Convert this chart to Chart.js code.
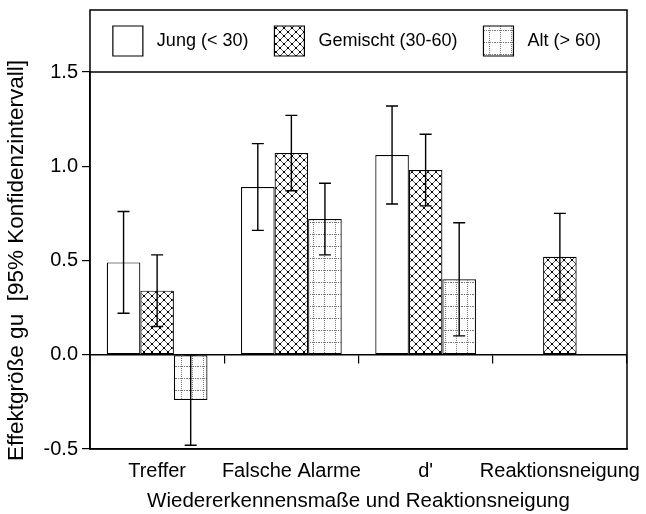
<!DOCTYPE html>
<html>
<head>
<meta charset="utf-8">
<script src="https://cdn.jsdelivr.net/npm/chart.js@4"></script>
<style>
  html, body { margin: 0; padding: 0; background: #fff; }
  #wrap { width: 646px; height: 514px; position: relative; }
</style>
</head>
<body>
<div id="wrap"><canvas id="chart"></canvas></div>
<script>
// data
const categories = ['Treffer', 'Falsche Alarme', "d'", 'Reaktionsneigung'];
const seriesNames = ['Jung (< 30)', 'Gemischt (30-60)', 'Alt (> 60)'];

const jung = [0.49, 0.89, 1.06, null];
const jungLo = [0.22, 0.66, 0.80, null];
const jungHi = [0.76, 1.12, 1.32, null];

const gemischt = [0.34, 1.07, 0.98, 0.52];
const gemischtLo = [0.15, 0.87, 0.79, 0.29];
const gemischtHi = [0.53, 1.27, 1.17, 0.75];

const alt = [-0.24, 0.72, 0.40, null];
const altLo = [-0.48, 0.53, 0.10, null];
const altHi = [0.00, 0.91, 0.70, null];

const yTicks = [-0.5, 0.0, 0.5, 1.0, 1.5];

const FONT = '"Liberation Sans", Arial, Helvetica, sans-serif';
Chart.defaults.font.family = FONT;
Chart.defaults.color = '#000';

// fill patterns
function crossHatch() {
  const c = document.createElement('canvas');
  c.width = 8; c.height = 8;
  const g = c.getContext('2d');
  g.fillStyle = '#fff';
  g.fillRect(0, 0, 8, 8);
  g.strokeStyle = '#555';
  g.lineWidth = 1;
  g.beginPath();
  g.moveTo(0, 0); g.lineTo(8, 8);
  g.moveTo(8, 0); g.lineTo(0, 8);
  g.stroke();
  g.fillStyle = '#000';
  g.fillRect(3, 3, 2, 2);
  g.fillRect(0, 0, 1, 1); g.fillRect(7, 0, 1, 1);
  g.fillRect(0, 7, 1, 1); g.fillRect(7, 7, 1, 1);
  return g.createPattern(c, 'repeat');
}

function dotGrid() {
  const c = document.createElement('canvas');
  c.width = 11; c.height = 12;
  const g = c.getContext('2d');
  g.fillStyle = '#fff';
  g.fillRect(0, 0, 11, 12);
  g.fillStyle = '#777';
  for (let y = 0; y < 12; y += 2) g.fillRect(5, y, 1, 1);
  for (let x = 0; x < 11; x += 2) g.fillRect(x, 6, 1, 1);
  return g.createPattern(c, 'repeat');
}

const errors = [[jungLo, jungHi], [gemischtLo, gemischtHi], [altLo, altHi]];

const errorBars = {
  id: 'errorBars',
  afterDatasetsDraw(chart) {
    const ctx = chart.ctx;
    const y = chart.scales.y;
    ctx.save();
    ctx.strokeStyle = '#000';
    ctx.lineWidth = 1.4;
    chart.data.datasets.forEach((ds, i) => {
      const meta = chart.getDatasetMeta(i);
      const [lo, hi] = errors[i];
      meta.data.forEach((bar, j) => {
        if (ds.data[j] === null || lo[j] === null) return;
        const x = bar.x;
        const y1 = y.getPixelForValue(hi[j]);
        const y2 = y.getPixelForValue(lo[j]);
        ctx.beginPath();
        ctx.moveTo(x, y1); ctx.lineTo(x, y2);
        ctx.moveTo(x - 6, y1); ctx.lineTo(x + 6, y1);
        ctx.moveTo(x - 6, y2); ctx.lineTo(x + 6, y2);
        ctx.stroke();
      });
    });
    ctx.restore();
  }
};

// frame round the plot and the legend
const frame = {
  id: 'frame',
  afterDraw(chart) {
    const {left, right, top, bottom} = chart.chartArea;
    const ctx = chart.ctx;
    ctx.save();
    ctx.strokeStyle = '#000';
    ctx.lineWidth = 1.5;
    ctx.strokeRect(left, 10, right - left, bottom - 10);
    ctx.beginPath();
    ctx.moveTo(left, top); ctx.lineTo(right, top);
    ctx.stroke();
    ctx.restore();
  }
};

const legendGap = {
  id: 'legendGap',
  beforeInit(chart) {
    const fit = chart.legend.fit;
    chart.legend.fit = function () {
      fit.bind(chart.legend)();
      this.height += 6;
    };
  }
};

new Chart(document.getElementById('chart'), {
  type: 'bar',
  data: {
    labels: categories,
    datasets: [
      { label: seriesNames[0], data: jung, backgroundColor: '#fff', borderColor: '#000', borderWidth: 1.2 },
      { label: seriesNames[1], data: gemischt, backgroundColor: crossHatch(), borderColor: '#000', borderWidth: 1.2 },
      { label: seriesNames[2], data: alt, backgroundColor: dotGrid(), borderColor: '#000', borderWidth: 1.2 }
    ]
  },
  options: {
    responsive: true,
    maintainAspectRatio: false,
    animation: false,
    layout: { padding: { top: 0, right: 19, left: 0, bottom: 0 } },
    datasets: {
      bar: { categoryPercentage: 0.75, barPercentage: 1.0, borderSkipped: false }
    },
    plugins: {
      tooltip: { enabled: false },
      legend: {
        position: 'top',
        align: 'end',
        labels: {
          boxWidth: 30,
          boxHeight: 30,
          padding: 26,
          font: { size: 18 },
          generateLabels(chart) {
            return Chart.defaults.plugins.legend.labels.generateLabels(chart)
              .map(l => Object.assign(l, { text: ' ' + l.text }));
          }
        }
      }
    },
    scales: {
      x: {
        type: 'category',
        position: 'bottom',
        offset: true,
        grid: { display: false },
        border: { display: true, color: '#000', width: 1.5 },
        ticks: { font: { size: 20 }, padding: 2, maxRotation: 0, autoSkip: false },
        title: {
          display: true,
          text: 'Wiedererkennensmaße und Reaktionsneigung',
          font: { size: 20.5 },
          padding: { top: 0, bottom: 0 }
        },
        afterFit(s) { s.height = 65; s.paddingLeft = 0; s.paddingRight = 0; }
      },
      x2: {
        type: 'category',
        position: { y: 0 },
        offset: true,
        grid: { offset: true, drawOnChartArea: false, drawTicks: true, tickLength: 8, color: '#000', lineWidth: 1.2 },
        border: { display: true, color: '#000', width: 1.5 },
        ticks: { display: false },
        afterFit(s) { s.paddingLeft = 0; s.paddingRight = 0; }
      },
      y: {
        min: -0.5,
        max: 1.5,
        afterBuildTicks(s) { s.ticks = yTicks.map(v => ({ value: v })); },
        grid: { drawOnChartArea: false, drawTicks: true, tickLength: 8, color: '#000', lineWidth: 1.2 },
        border: { display: true, color: '#000', width: 1.5 },
        ticks: { font: { size: 20 }, padding: 4, callback: v => Number(v).toFixed(1) },
        title: {
          display: true,
          text: 'Effektgröße gu  [95% Konfidenzintervall]',
          font: { size: 22.5 },
          padding: { top: 3, bottom: 0 }
        },
        afterFit(s) { s.width = 90; }
      }
    }
  },
  plugins: [errorBars, frame, legendGap]
});
</script>
</body>
</html>
